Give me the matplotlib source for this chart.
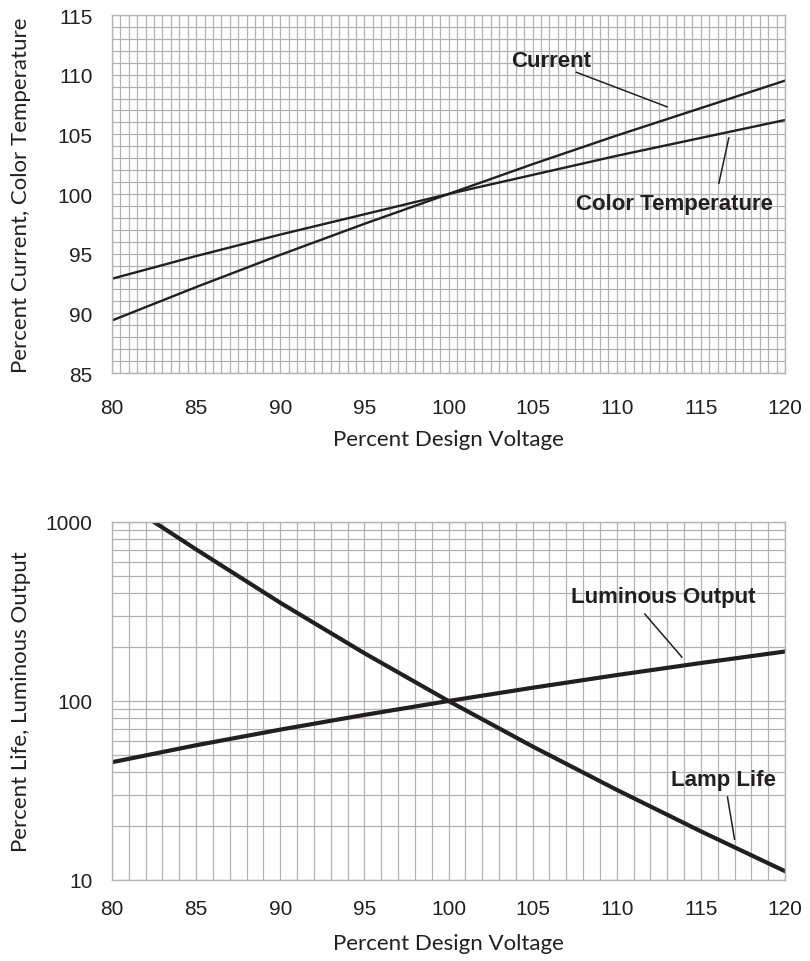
import numpy as np
import matplotlib
matplotlib.use("Agg")
from matplotlib import pyplot as plt
from matplotlib.ticker import MultipleLocator, FixedLocator, NullFormatter, LogLocator

plt.rcParams['font.family'] = ['Liberation Sans', 'DejaVu Sans']

# Data
voltage = [80, 85, 90, 95, 100, 105, 110, 115, 120]
current = [89.4, 92.2, 94.9, 97.5, 100.0, 102.5, 104.9, 107.2, 109.5]
color_temp = [92.9, 94.8, 96.6, 98.3, 100.0, 101.6, 103.2, 104.7, 106.2]

life_voltage = [82.5, 85, 90, 95, 100, 105, 110, 115, 120]
lamp_life = [1000, 703, 354, 185, 100, 55.7, 31.9, 18.7, 11.2]
luminous = [45.5, 56.6, 69.2, 83.6, 100, 118.6, 139.6, 163, 189]

x_ticks = [80, 85, 90, 95, 100, 105, 110, 115, 120]
top_y_ticks = [85, 90, 95, 100, 105, 110, 115]
bottom_y_ticks = [10, 100, 1000]

LINE = "#231f20"
GRID = "#b3b3b3"
LABEL_FONT = "Lato"

fig = plt.figure(figsize=(8.1, 9.62), dpi=100)
W, H = 810, 962


def box(left, top, right, bottom):
    return [left / W, 1 - bottom / H, (right - left) / W, (bottom - top) / H]


def style(ax, xpad):
    for s in ax.spines.values():
        s.set_color(GRID)
        s.set_linewidth(1.0)
    ax.tick_params(which="both", length=0, labelsize=15, colors="#231f20")
    ax.tick_params(axis="y", pad=14)
    ax.tick_params(axis="x", pad=xpad)
    ax.set_axisbelow(True)


lab = dict(fontsize=16, fontfamily=LABEL_FONT, color="#231f20")

# ---- top chart
ax1 = fig.add_axes(box(112, 16, 785, 374))
ax1.plot(voltage, current, c=LINE, lw=1.7)
ax1.plot(voltage, color_temp, c=LINE, lw=1.7)
ax1.set_xlim(80, 120)
ax1.set_ylim(85, 115)
ax1.set_xticks(x_ticks)
ax1.set_yticks(top_y_ticks)
ax1.xaxis.set_minor_locator(MultipleLocator(0.5))
ax1.yaxis.set_minor_locator(MultipleLocator(1))
ax1.grid(which="both", color=GRID, lw=0.9)
ax1.set_xlabel("Percent Design Voltage", **lab)
ax1.set_ylabel("Percent Current, Color Temperature", **lab)
ax1.xaxis.set_label_coords(0.5, -(430 - 374) / 358)
ax1.yaxis.set_label_coords(-(112 - 31) / 673, 0.5)
style(ax1, 18)

ann = dict(fontsize=16, fontweight="bold", color=LINE, ha="center", va="center")
ax1.text(106.1, 111.2, "Current", **ann)
ax1.plot([107.6, 113.0], [110.2, 107.3], c=LINE, lw=1.1)
ax1.text(113.45, 99.2, "Color Temperature", **ann)
ax1.plot([116.66, 116.07], [104.7, 100.9], c=LINE, lw=1.1)

# ---- bottom chart
ax2 = fig.add_axes(box(112, 523, 785, 881))
ax2.plot(life_voltage, lamp_life, c=LINE, lw=3.0)
ax2.plot(voltage, luminous, c=LINE, lw=3.0)
ax2.set_yscale("log")
ax2.set_xlim(80, 120)
ax2.set_ylim(10, 1000)
ax2.set_xticks(x_ticks)
ax2.yaxis.set_major_locator(FixedLocator(bottom_y_ticks))
ax2.set_yticklabels([str(t) for t in bottom_y_ticks])
ax2.yaxis.set_minor_locator(LogLocator(base=10, subs=np.arange(2, 10)))
ax2.yaxis.set_minor_formatter(NullFormatter())
ax2.xaxis.set_minor_locator(MultipleLocator(1))
ax2.grid(which="both", color=GRID, lw=0.9)
ax2.set_xlabel("Percent Design Voltage", **lab)
ax2.set_ylabel("Percent Life, Luminous Output", **lab)
ax2.xaxis.set_label_coords(0.5, -(934 - 881) / 358)
ax2.yaxis.set_label_coords(-(112 - 31) / 673, 0.5)
style(ax2, 14)

ax2.text(112.74, 386, "Luminous Output", **ann)
ax2.plot([111.67, 113.87], [306, 176], c=LINE, lw=1.1)
ax2.text(116.34, 36.6, "Lamp Life", **ann)
ax2.plot([116.58, 117.0], [29.1, 16.9], c=LINE, lw=1.1)

fig.savefig("out.png", dpi=100)
